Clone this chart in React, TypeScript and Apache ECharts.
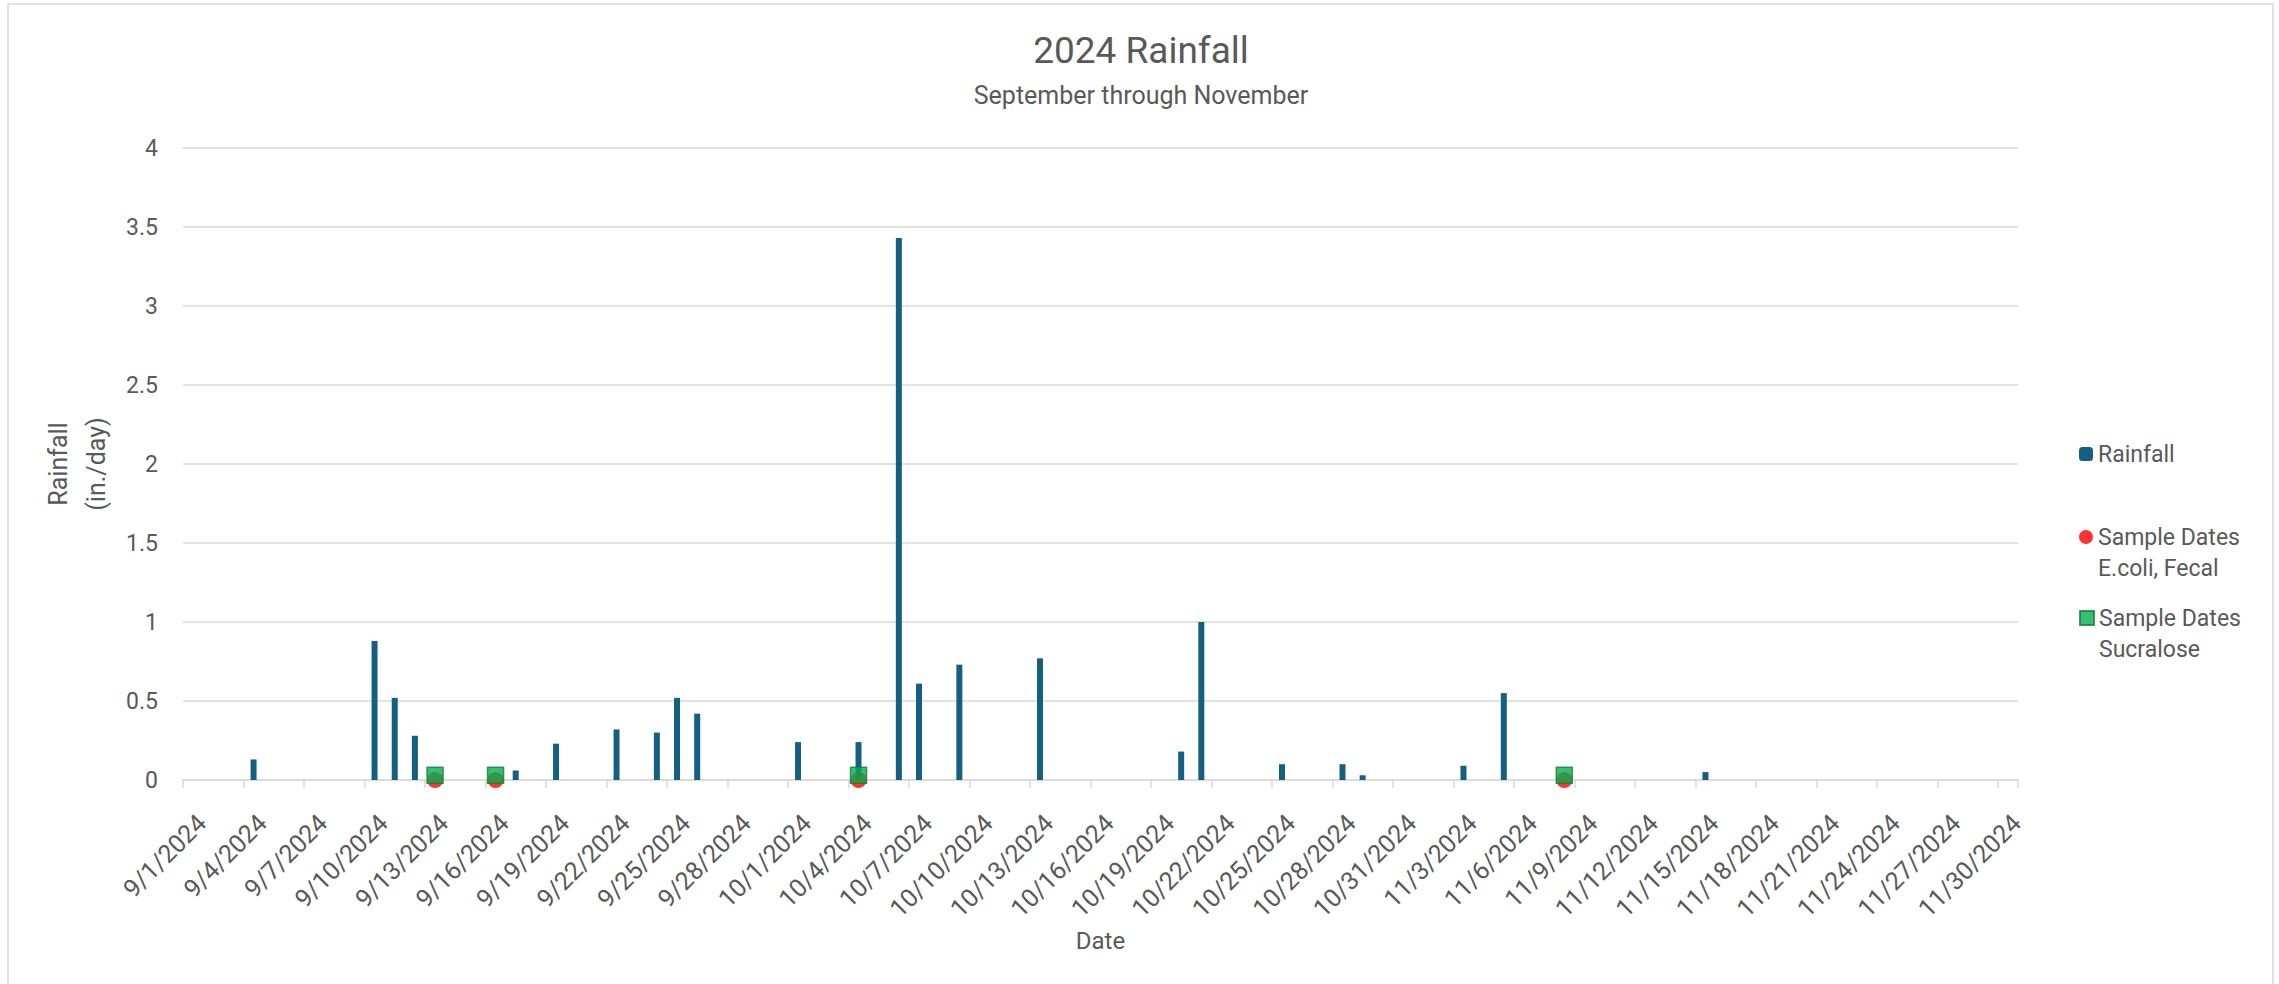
import React, { useEffect, useRef } from "react";
import * as echarts from "echarts";

// ---- data ----
const months = [9, 10, 11];
const monthLengths = [30, 31, 30];
const year = 2024;

const rainDates = [
  "9/4/2024", "9/10/2024", "9/11/2024", "9/12/2024", "9/17/2024", "9/19/2024",
  "9/22/2024", "9/24/2024", "9/25/2024", "9/26/2024", "10/1/2024", "10/4/2024",
  "10/6/2024", "10/7/2024", "10/9/2024", "10/13/2024", "10/20/2024", "10/21/2024",
  "10/25/2024", "10/28/2024", "10/29/2024", "11/3/2024", "11/5/2024", "11/15/2024",
];
const rainValues = [
  0.13, 0.88, 0.52, 0.28, 0.06, 0.23,
  0.32, 0.30, 0.52, 0.42, 0.24, 0.24,
  3.43, 0.61, 0.73, 0.77, 0.18, 1.0,
  0.10, 0.10, 0.03, 0.09, 0.55, 0.05,
];

const ecoliDates = ["9/13/2024", "9/16/2024", "10/4/2024", "11/8/2024"];
const ecoliValues = [0, 0, 0, 0];

const sucraloseDates = ["9/13/2024", "9/16/2024", "10/4/2024", "11/8/2024"];
const sucraloseValues = [0.03, 0.03, 0.03, 0.03];

const yTicks = { min: 0, max: 4, interval: 0.5 };

// ---- derived ----
const categories: string[] = [];
months.forEach((m, mi) => {
  for (let d = 1; d <= monthLengths[mi]; d++) categories.push(`${m}/${d}/${year}`);
});
const rainSeries = categories.map((c) => {
  const i = rainDates.indexOf(c);
  return i >= 0 ? rainValues[i] : 0;
});
const ecoliSeries = ecoliDates.map((d, i) => [d, ecoliValues[i]]);
const sucraloseSeries = sucraloseDates.map((d, i) => [d, sucraloseValues[i]]);

const FONT = "Roboto, 'Noto Sans', sans-serif";
const TXT = "#595959";
const GRID = "#D9D9D9";

const NAME_RAIN = "Rainfall";
const NAME_ECOLI = "Sample Dates E.coli, Fecal";
const NAME_SUC = "Sample Dates Sucralose";

export default function App() {
  const ref = useRef<HTMLDivElement>(null);
  useEffect(() => {
    document.body.style.margin = "0";
    if (!ref.current) return;
    const chart = echarts.init(ref.current, null, { renderer: "svg" });
    const legendText = {
      fontSize: 23,
      color: TXT,
      fontFamily: FONT,
      lineHeight: 31,
    };
    const legendBase = {
      orient: "vertical",
      left: 2079,
      itemWidth: 14,
      itemHeight: 14,
      padding: 0,
      selectedMode: false,
      textStyle: legendText,
    };
    chart.setOption({
      animation: false,
      backgroundColor: "#ffffff",
      title: [
        {
          text: "2024 Rainfall",
          left: 1141,
          top: 32,
          textAlign: "center",
          padding: 0,
          textStyle: { fontSize: 37, fontWeight: "normal", color: TXT, fontFamily: FONT, lineHeight: 37 },
        },
        {
          text: "September through November",
          left: 1141,
          top: 83,
          textAlign: "center",
          padding: 0,
          textStyle: { fontSize: 25, fontWeight: "normal", color: TXT, fontFamily: FONT, lineHeight: 25 },
        },
      ],
      graphic: [
        {
          type: "rect",
          silent: true,
          z: -10,
          shape: { x: 8, y: 4, width: 2265, height: 995 },
          style: { fill: "none", stroke: GRID, lineWidth: 1.5 },
        },
      ],
      legend: [
        { ...legendBase, data: [NAME_RAIN], top: 438.5 },
        {
          ...legendBase,
          data: [NAME_ECOLI],
          top: 490.5,
          formatter: (n: string) => " \n" + n.replace("Dates ", "Dates\n"),
        },
        {
          ...legendBase,
          data: [NAME_SUC],
          top: 571.5,
          formatter: (n: string) => " \n" + n.replace("Dates ", "Dates\n"),
        },
      ],
      grid: { left: 183, right: 261, top: 148, bottom: 204, containLabel: false },
      xAxis: {
        type: "category",
        data: categories,
        boundaryGap: true,
        name: "Date",
        nameLocation: "middle",
        nameGap: 144,
        nameTextStyle: { fontSize: 24, color: TXT, fontFamily: FONT, lineHeight: 24 },
        axisLine: { show: true, lineStyle: { color: GRID, width: 1.5 } },
        axisTick: { show: true, interval: 2, length: 8, lineStyle: { color: GRID, width: 1.5 } },
        axisLabel: {
          interval: 2,
          rotate: 45,
          margin: 30,
          align: "right",
          verticalAlign: "top",
          fontSize: 25,
          color: TXT,
          fontFamily: FONT,
        },
        splitLine: { show: false },
      },
      yAxis: {
        type: "value",
        min: yTicks.min,
        max: yTicks.max,
        interval: yTicks.interval,
        name: "Rainfall\n(in./day)",
        nameLocation: "middle",
        nameRotate: 90,
        nameGap: 57,
        nameTextStyle: { fontSize: 25, color: TXT, fontFamily: FONT, lineHeight: 38, align: "center" },
        axisLine: { show: false },
        axisTick: { show: false },
        axisLabel: { margin: 25, fontSize: 23, color: TXT, fontFamily: FONT },
        splitLine: { lineStyle: { color: GRID, width: 1.5 } },
      },
      series: [
        {
          name: NAME_RAIN,
          type: "bar",
          data: rainSeries,
          barWidth: 6,
          itemStyle: { color: "#156082" },
        },
        {
          name: NAME_ECOLI,
          type: "scatter",
          data: ecoliSeries,
          symbol: "circle",
          symbolSize: 16,
          itemStyle: { color: "#FF0000" },
          z: 3,
        },
        {
          name: NAME_SUC,
          type: "scatter",
          data: sucraloseSeries,
          symbol: "rect",
          symbolSize: [16, 16],
          itemStyle: { color: "#00B050", borderColor: "#1E7A3A", borderWidth: 1.5 },
          z: 4,
        },
      ],
    });
    return () => chart.dispose();
  }, []);
  return <div ref={ref} style={{ width: 2279, height: 984 }} />;
}
